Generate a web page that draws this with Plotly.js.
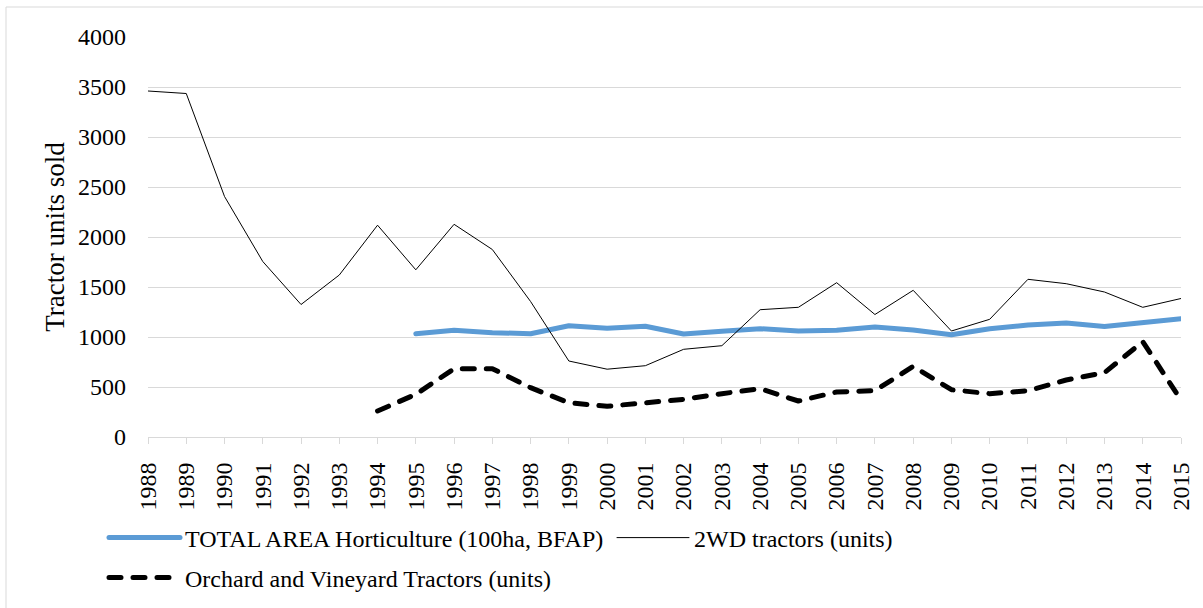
<!DOCTYPE html>
<html>
<head>
<meta charset="utf-8">
<script src="https://cdn.plot.ly/plotly-3.0.1.min.js"></script>
<style>
  html, body { margin: 0; padding: 0; background: #fff; }
  #chart { width: 1203px; height: 608px; }
  .scatterlayer .js-line, .legendlines path { stroke-linecap: round; stroke-linejoin: round; }
</style>
</head>
<body>
<div id="chart"></div>
<script>
const years = [1988,1989,1990,1991,1992,1993,1994,1995,1996,1997,1998,1999,2000,2001,2002,2003,2004,2005,2006,2007,2008,2009,2010,2011,2012,2013,2014,2015];

const tractors2WD = [3460,3435,2405,1755,1325,1620,2118,1672,2127,1875,1355,760,678,713,877,913,1273,1297,1543,1225,1467,1060,1177,1577,1533,1450,1297,1385];

const horticultureArea = [null,null,null,null,null,null,null,1033,1067,1043,1033,1113,1087,1107,1030,1057,1083,1060,1067,1100,1070,1023,1083,1120,1140,1105,1145,1183];

const orchardVineyard = [null,null,null,null,null,null,260,427,683,683,493,343,307,347,377,433,483,360,450,463,707,473,433,463,570,643,953,370];

const yTicks = [0,500,1000,1500,2000,2500,3000,3500,4000];

const FONT = 'Liberation Serif';
const W = 1203, H = 608;

const traces = [
  { x: years, y: horticultureArea, name: 'TOTAL AREA Horticulture (100ha, BFAP)', type: 'scatter', mode: 'lines',
    line: { color: '#5b9bd5', width: 5 }, legend: 'legend' },
  { x: years, y: tractors2WD, name: '2WD tractors (units)', type: 'scatter', mode: 'lines',
    line: { color: '#000000', width: 1 }, legend: 'legend2' },
  { x: years, y: orchardVineyard, name: 'Orchard and Vineyard Tractors (units)', type: 'scatter', mode: 'lines',
    line: { color: '#000000', width: 5, dash: '12px,12px' }, legend: 'legend3' }
];

function leg(px, py, w) {
  return { x: px / W, y: 1 - py / H, xref: 'container', yref: 'container', xanchor: 'left', yanchor: 'middle',
    orientation: 'h', bgcolor: 'rgba(0,0,0,0)', borderwidth: 0, itemwidth: w,
    font: { family: FONT, size: 24, color: '#000' } };
}

const layout = {
  width: W, height: H,
  margin: { l: 148, r: 22, t: 37, b: 171 },
  paper_bgcolor: '#fff', plot_bgcolor: '#fff',
  font: { family: FONT, size: 24, color: '#000' },
  showlegend: true,
  legend: leg(104, 538, 71),
  legend2: leg(612, 538, 72),
  legend3: leg(104, 578, 71),
  xaxis: {
    type: 'linear', range: [1988, 2015], tickvals: years, ticktext: years.map(String),
    tickangle: -90, ticks: 'outside', ticklen: 6, tickcolor: '#d9d9d9', tickwidth: 1,
    showgrid: false, zeroline: false, showline: true, linecolor: '#d9d9d9', linewidth: 1,
    tickfont: { family: FONT, size: 24, color: '#000' }, ticklabelstandoff: 9, fixedrange: true
  },
  yaxis: {
    range: [0, 4000], tickvals: yTicks, ticks: '', showgrid: true, gridcolor: '#d9d9d9', gridwidth: 1,
    zeroline: false, showline: false, tickfont: { family: FONT, size: 24, color: '#000' },
    ticklabelstandoff: 21,
    title: { text: 'Tractor units sold', font: { family: FONT, size: 27, color: '#000' }, standoff: 5 },
    automargin: false, fixedrange: true
  },
  shapes: [
    { type: 'line', xref: 'paper', yref: 'paper', x0: (6 - 148) / (W - 170), x1: (W - 148) / (W - 170),
      y0: (608 - 171 - 7) / 400, y1: (608 - 171 - 7) / 400, line: { color: '#d9d9d9', width: 1 } },
    { type: 'line', xref: 'paper', yref: 'paper', x0: (6 - 148) / (W - 170), x1: (6 - 148) / (W - 170),
      y0: (608 - 171 - 7) / 400, y1: -171 / 400, line: { color: '#d9d9d9', width: 1 } }
  ]
};

Plotly.newPlot('chart', traces, layout, { displayModeBar: false, staticPlot: true });
</script>
</body>
</html>
